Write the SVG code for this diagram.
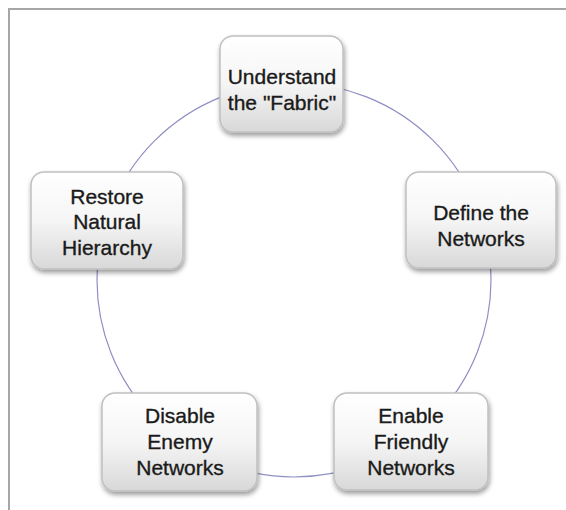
<svg xmlns="http://www.w3.org/2000/svg" width="566" height="510" viewBox="0 0 566 510">
<defs>
<linearGradient id="g" x1="0" y1="0" x2="0" y2="1">
<stop offset="0" stop-color="#ffffff"/>
<stop offset="0.5" stop-color="#f5f5f5"/>
<stop offset="1" stop-color="#d8d8d8"/>
</linearGradient>
<filter id="sh" x="-20%" y="-20%" width="140%" height="140%">
<feGaussianBlur in="SourceAlpha" stdDeviation="2.5"/>
<feOffset dx="1" dy="3" result="b"/>
<feComponentTransfer><feFuncA type="linear" slope="0.4"/></feComponentTransfer>
<feMerge><feMergeNode/><feMergeNode in="SourceGraphic"/></feMerge>
</filter>
</defs>
<style>
.box{fill:url(#g);stroke:#c0c0c0;stroke-width:1.5;filter:url(#sh)}
.t{font-family:"Liberation Sans",Arial,sans-serif;font-size:21px;fill:#1a1a1a;stroke:#1a1a1a;stroke-width:0.35;text-anchor:middle}
.frame{stroke:#a6a6a6;stroke-width:2;fill:none}
.conn{stroke:#8f8fc4;stroke-width:1.2;fill:none}
</style>
<path class="frame" d="M9,510 V9 H566"/>
<g id="connectors">
<circle class="conn" cx="294" cy="280" r="197"/>
</g>
<g id="n1">
<rect class="box" x="220" y="36" width="123" height="96" rx="13"/>
<text class="t" x="282" y="84">Understand</text>
<text class="t" x="282" y="110">the "Fabric"</text>
</g>
<g id="n2">
<rect class="box" x="406" y="172" width="150" height="96" rx="13"/>
<text class="t" x="481" y="220">Define the</text>
<text class="t" x="481" y="246">Networks</text>
</g>
<g id="n3">
<rect class="box" x="31" y="172" width="152" height="97" rx="13"/>
<text class="t" x="107" y="204">Restore</text>
<text class="t" x="107" y="229">Natural</text>
<text class="t" x="107" y="255">Hierarchy</text>
</g>
<g id="n4">
<rect class="box" x="102" y="393" width="155" height="98" rx="13"/>
<text class="t" x="180" y="423">Disable</text>
<text class="t" x="180" y="449">Enemy</text>
<text class="t" x="180" y="475">Networks</text>
</g>
<g id="n5">
<rect class="box" x="334" y="393" width="154" height="97" rx="13"/>
<text class="t" x="411" y="423">Enable</text>
<text class="t" x="411" y="449">Friendly</text>
<text class="t" x="411" y="475">Networks</text>
</g>
</svg>
